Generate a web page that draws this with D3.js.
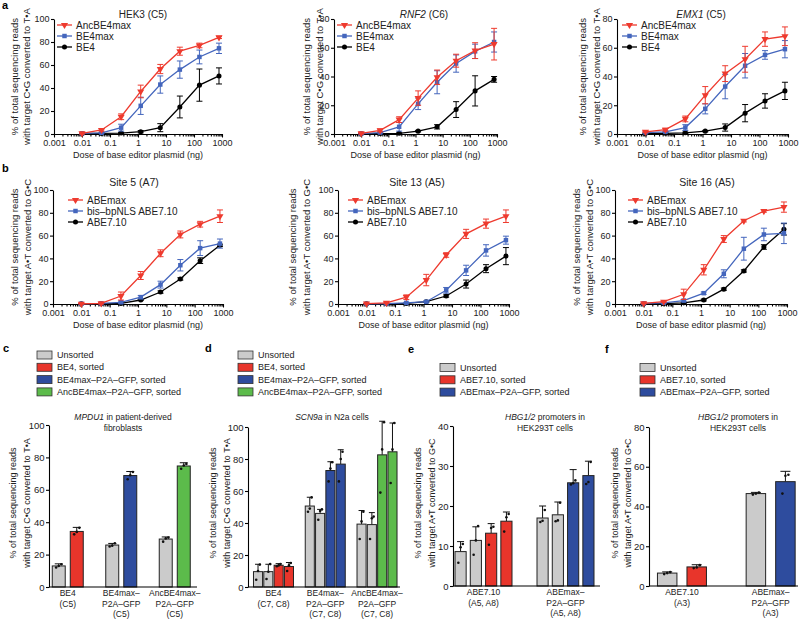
<!DOCTYPE html>
<html>
<head>
<meta charset="utf-8">
<script src="https://cdn.jsdelivr.net/npm/d3@7"></script>
<style>
  body { margin: 0; background: #fff; }
  svg { font-family: "Liberation Sans", Arial, Helvetica, sans-serif; }
</style>
</head>
<body>
<script>
// ---- data ----
const doses = [0.01, 0.05, 0.25, 1.25, 6.25, 31.25, 156.25, 781.25];
const doseTicks = [0.001, 0.01, 0.1, 1, 10, 100, 1000];
const cbeNames = ["AncBE4max", "BE4max", "BE4"];
const abeNames = ["ABEmax", "bis–bpNLS ABE7.10", "ABE7.10"];

// rows: red, blue, black
const hek3Mean = [[0.5, 3.5, 15, 37, 56.5, 72, 77, 84],
                  [0.5, 1, 5.5, 24.5, 43, 56, 67, 74.5],
                  [0.3, 0.5, 0.8, 2, 5.5, 23.5, 42.5, 50.5]];
const hek3Err  = [[0.5, 1, 2.5, 5.5, 4, 3.5, 2, 1],
                  [0.3, 0.5, 3, 7.5, 7.5, 7.5, 6, 4.5],
                  [0.2, 0.3, 0.5, 1, 3.5, 9.5, 14, 7]];
const rnf2Mean = [[0.5, 2.5, 10, 25, 39.5, 51, 58, 62.5],
                  [0.3, 1, 5, 21, 36, 49, 57.5, 64],
                  [0.2, 0.3, 0.5, 2, 5, 17, 30, 38]];
const rnf2Err  = [[0.5, 1, 2, 5, 5, 4.5, 5.5, 11],
                  [0.3, 0.5, 3, 4, 8, 6, 5, 7],
                  [0.2, 0.2, 0.3, 0.5, 1.5, 5.5, 10.5, 2]];
const emx1Mean = [[1.5, 3, 10.5, 27, 42, 52, 66, 68],
                  [1, 1.5, 4.5, 17.5, 33, 47.5, 55, 59],
                  [0.5, 0.5, 0.8, 2, 4.5, 14.5, 23, 30]];
const emx1Err  = [[0.5, 1, 2, 6, 5.5, 9, 5, 6.5],
                  [0.5, 0.5, 2, 3.5, 8.5, 8.5, 3, 6],
                  [0.2, 0.3, 0.5, 0.5, 2.5, 6, 5, 6]];
const site5Mean = [[0.2, 0.5, 7, 25, 44.5, 61, 70, 77],
                   [0.2, 0.5, 1.5, 6, 17, 34, 49, 53],
                   [0.2, 0.3, 0.5, 3.5, 10.5, 22, 38, 51.5]];
const site5Err  = [[0.2, 0.5, 3.5, 3.5, 3, 3, 2.5, 5.5],
                   [0.2, 0.3, 1, 1.5, 3, 5, 6.5, 4],
                   [0.2, 0.2, 0.3, 0.5, 1, 1, 2.5, 1]];
const site13Mean = [[0.3, 1, 6, 21, 43, 61.5, 70.5, 77],
                    [0.2, 0.3, 1, 2, 12, 29.5, 47, 56],
                    [0.2, 0.2, 0.5, 2, 7, 17.5, 31, 42]];
const site13Err  = [[0.3, 0.5, 2, 5, 2, 4, 4, 5.5],
                    [0.2, 0.2, 0.5, 0.5, 2.5, 4.5, 5, 3.5],
                    [0.2, 0.2, 0.3, 0.5, 1, 3.5, 3.5, 7.5]];
const site16Mean = [[0.5, 2, 8.5, 30, 57, 73, 81.5, 85],
                    [0.5, 1, 3, 9.5, 26.5, 48.5, 61, 62],
                    [0.2, 0.3, 1, 3.5, 13, 29, 50, 65.5]];
const site16Err  = [[0.3, 0.5, 4.5, 4.5, 3, 1, 1, 4.5],
                    [0.3, 0.5, 1, 1, 3.5, 10, 5.5, 9],
                    [0.2, 0.2, 0.5, 0.8, 1, 1, 2, 5]];

// bar panels
const cGroups = [["BE4", "(C5)"], ["BE4max–", "P2A–GFP", "(C5)"], ["AncBE4max–", "P2A–GFP", "(C5)"]];
const cMean = [[13, 34.3], [25.9, 68.8], [29.6, 74.7]];
const cSd   = [[1.3, 2.5], [1, 2.5], [1.3, 2]];
const cDots = [[[12, 13, 14], [32.5, 34, 36.5]], [[25, 25.5, 27], [66.5, 69, 71]], [[28, 30, 30.5], [73, 75, 76]]];

const dGroups = [["BE4", "(C7, C8)"], ["BE4max–", "P2A–GFP", "(C7, C8)"], ["AncBE4max–", "P2A–GFP", "(C7, C8)"]];
const dMean = [[9.6, 9.6, 13.6, 12.8], [50.6, 46, 72.8, 76.8], [39.3, 39, 82.6, 84.5]];
const dSd   = [[4.6, 4.6, 1, 2.5], [5.5, 2.5, 5.5, 9], [8.5, 7.5, 21, 18]];
const dDots = [[[4.5, 10, 14], [5, 9.5, 14.3], [13, 13.5, 14.3], [10, 13.5, 15]],
               [[47, 49, 56], [42, 47.5, 48.5], [66, 74, 78], [66, 80, 84.5]],
               [[30, 41, 47], [30, 43, 44], [59, 86, 103], [65, 86, 102.5]]];

const eGroups = [["ABE7.10", "(A5, A8)"], ["ABEmax–", "P2A–GFP", "(A5, A8)"]];
const eMean = [[8.6, 11.4, 13.2, 16.2], [17, 17.8, 25.8, 27.6]];
const eSd   = [[2.5, 3.4, 2.4, 2.3], [3, 3.2, 3.3, 3.6]];
const eDots = [[[5.8, 9.7, 10.5], [7.8, 11.4, 15], [10.3, 14.5, 14.8], [13.6, 17.2, 18]],
               [[16, 16.3, 19], [16.2, 16.4, 20.8], [25.4, 25.7, 26.4], [25.5, 26, 31]]];

const fGroups = [["ABE7.10", "(A3)"], ["ABEmax–", "P2A–GFP", "(A3)"]];
const fMean = [[6.5, 9.6], [46.5, 52.5]];
const fSd   = [[0.6, 1.1], [0.6, 5.2]];
const fDots = [[[6, 6.5, 7], [9, 9.3, 10.5]], [[46, 46.5, 47], [46.5, 55.5, 56]]];

const cLegend = ["Unsorted", "BE4, sorted", "BE4max–P2A–GFP, sorted", "AncBE4max–P2A–GFP, sorted"];
const eLegend = ["Unsorted", "ABE7.10, sorted", "ABEmax–P2A–GFP, sorted"];

const RED = "#ee3a2e", BLUE = "#4466bd";
const lineColors = [RED, BLUE, "#000"];
const GRAY = "#cbcbcb", BRED = "#e8352b", BBLUE = "#2e4c9e", BGREEN = "#5cbb4b";

const svg = d3.select("body").append("svg").attr("width", 800).attr("height", 621);

function yTitle(g, xs, cy, lines, fs) {
  lines.forEach((t, i) => {
    g.append("text")
      .attr("transform", `translate(${xs[i]},${cy}) rotate(-90)`)
      .attr("text-anchor", "middle").attr("dy", "0.35em")
      .attr("font-size", fs).attr("fill", "#222").text(t);
  });
}

function title(g, x, y, italic, rest, fs) {
  const t = g.append("text").attr("x", x).attr("y", y).attr("text-anchor", "middle")
    .attr("font-size", fs).attr("fill", "#222");
  if (italic) t.append("tspan").attr("font-style", "italic").text(italic);
  t.append("tspan").text(rest);
}

function linePanel(c) {
  const g = svg.append("g");
  const x = d3.scaleLog().domain([0.001, 1000]).range(c.xr);
  const y = d3.scaleLinear().domain([0, c.ymax]).range(c.yr);

  // x axis with minor ticks
  const minor = [];
  for (let e = -3; e < 3; e++) for (let k = 2; k < 10; k++) minor.push(k * Math.pow(10, e));
  g.append("g").attr("transform", `translate(0,${c.yr[0]})`)
    .call(d3.axisBottom(x).tickValues(minor).tickSize(2.5).tickFormat(""))
    .call(a => a.select(".domain").remove());
  const ax = g.append("g").attr("transform", `translate(0,${c.yr[0]})`)
    .call(d3.axisBottom(x).tickValues(doseTicks).tickSize(3.5).tickPadding(2)
      .tickFormat(d => String(d)).tickSizeOuter(0));
  ax.selectAll("text").attr("font-size", 9).attr("fill", "#222");

  const ay = g.append("g").attr("transform", `translate(${c.xr[0]},0)`)
    .call(d3.axisLeft(y).tickValues(d3.range(0, c.ymax + 1, 20)).tickSize(3).tickPadding(1.5).tickSizeOuter(0));
  ay.selectAll("text").attr("font-size", 9).attr("fill", "#222");
  g.selectAll(".domain, .tick line").attr("stroke", "#000").attr("stroke-width", 1.1);

  g.append("text").attr("x", (c.xr[0] + c.xr[1]) / 2).attr("y", c.yr[0] + 24)
    .attr("text-anchor", "middle").attr("font-size", 9).attr("fill", "#222")
    .text("Dose of base editor plasmid (ng)");
  yTitle(g, c.ylabX, (c.yr[0] + c.yr[1]) / 2, c.ylab, 9.5);
  title(g, c.titleX, c.titleY, c.italic, c.titleRest, c.titleSize);

  const syms = [d3.symbol(d3.symbolTriangle, 22), d3.symbol(d3.symbolSquare, 20), d3.symbol(d3.symbolCircle, 20)];
  const line = d3.line().x((d, i) => x(doses[i])).y(d => y(d));
  [2, 1, 0].forEach(s => {
    const col = lineColors[s];
    const sg = g.append("g");
    sg.selectAll("line.err").data(c.mean[s]).join("line")
      .attr("x1", (d, i) => x(doses[i])).attr("x2", (d, i) => x(doses[i]))
      .attr("y1", (d, i) => y(d - c.err[s][i])).attr("y2", (d, i) => y(d + c.err[s][i]))
      .attr("stroke", col).attr("stroke-width", 1);
    [-1, 1].forEach(sgn => {
      sg.selectAll(null).data(c.mean[s]).join("line")
        .attr("x1", (d, i) => x(doses[i]) - 3).attr("x2", (d, i) => x(doses[i]) + 3)
        .attr("y1", (d, i) => y(d + sgn * c.err[s][i])).attr("y2", (d, i) => y(d + sgn * c.err[s][i]))
        .attr("stroke", col).attr("stroke-width", 1);
    });
    sg.append("path").datum(c.mean[s]).attr("d", line)
      .attr("fill", "none").attr("stroke", col).attr("stroke-width", 1.3);
    sg.selectAll("path.m").data(c.mean[s]).join("path")
      .attr("transform", (d, i) => `translate(${x(doses[i])},${y(d)})` + (s === 0 ? " rotate(180)" : ""))
      .attr("d", syms[s]).attr("fill", col);
  });

  // legend
  c.names.forEach((n, i) => {
    const ly = c.legY + i * 11;
    g.append("line").attr("x1", c.legX).attr("x2", c.legX + 15).attr("y1", ly).attr("y2", ly)
      .attr("stroke", lineColors[i]).attr("stroke-width", 1.3);
    g.append("path").attr("transform", `translate(${c.legX + 7.5},${ly})` + (i === 0 ? " rotate(180)" : ""))
      .attr("d", syms[i]).attr("fill", lineColors[i]);
    g.append("text").attr("x", c.legX + 19).attr("y", ly).attr("dy", "0.35em")
      .attr("font-size", 10).attr("fill", "#222").text(n);
  });
}

const cbeLab = ["% of total sequencing reads", "with target C•G converted to T•A"];
const abeLab = ["% of total sequencing reads", "with target A•T converted to G•C"];

linePanel({ xr: [54, 222], yr: [134, 19], ymax: 100, mean: hek3Mean, err: hek3Err, names: cbeNames,
  legX: 57, legY: 25, ylab: cbeLab, ylabX: [15, 27], italic: "", titleRest: "HEK3 (C5)", titleX: 143, titleY: 17.5, titleSize: 10 });
linePanel({ xr: [334, 497], yr: [134, 19], ymax: 80, mean: rnf2Mean, err: rnf2Err, names: cbeNames,
  legX: 337, legY: 25, ylab: cbeLab, ylabX: [307, 320], italic: "RNF2", titleRest: " (C6)", titleX: 424, titleY: 17.5, titleSize: 10 });
linePanel({ xr: [617, 788], yr: [134, 19], ymax: 80, mean: emx1Mean, err: emx1Err, names: cbeNames,
  legX: 622, legY: 25, ylab: cbeLab, ylabX: [583, 597], italic: "EMX1", titleRest: " (C5)", titleX: 701, titleY: 17.5, titleSize: 10 });
linePanel({ xr: [53, 223], yr: [304, 190], ymax: 100, mean: site5Mean, err: site5Err, names: abeNames,
  legX: 68, legY: 200, ylab: abeLab, ylabX: [15, 28], italic: "", titleRest: "Site 5 (A7)", titleX: 134, titleY: 185.5, titleSize: 10.5 });
linePanel({ xr: [338, 509], yr: [304, 190], ymax: 100, mean: site13Mean, err: site13Err, names: abeNames,
  legX: 348, legY: 200, ylab: abeLab, ylabX: [293, 307], italic: "", titleRest: "Site 13 (A5)", titleX: 417, titleY: 185.5, titleSize: 10.5 });
linePanel({ xr: [615, 787], yr: [304, 190], ymax: 100, mean: site16Mean, err: site16Err, names: abeNames,
  legX: 628, legY: 200, ylab: abeLab, ylabX: [577, 590], italic: "", titleRest: "Site 16 (A5)", titleX: 707, titleY: 185.5, titleSize: 10.5 });

function barLegend(x, y0, labels, colors) {
  labels.forEach((t, i) => {
    const yy = y0 + i * 12.3;
    svg.append("rect").attr("x", x).attr("y", yy - 4).attr("width", 15).attr("height", 8)
      .attr("fill", colors[i]).attr("stroke", "#333").attr("stroke-width", 0.8);
    svg.append("text").attr("x", x + 20).attr("y", yy).attr("dy", "0.35em")
      .attr("font-size", 9).attr("fill", "#222").text(t);
  });
}

function barPanel(c) {
  const g = svg.append("g");
  const xg = d3.scaleBand().domain(d3.range(c.groups.length)).range(c.gr);
  const xi = d3.scaleBand().domain(d3.range(c.mean[0].length)).range([0, c.innerW]).paddingInner(c.pad);
  const y = d3.scaleLinear().domain([0, c.ymax]).range(c.yr);
  const bx = (gi, bi) => xg(gi) + xg.bandwidth() / 2 - c.innerW / 2 + xi(bi);
  const bw = xi.bandwidth();

  const bars = [];
  c.mean.forEach((row, gi) => row.forEach((v, bi) => bars.push({ gi, bi, v, sd: c.sd[gi][bi], dots: c.dots[gi][bi], col: c.colors[gi][bi] })));

  // error bars (upward)
  g.selectAll("line.eb").data(bars).join("line")
    .attr("x1", d => bx(d.gi, d.bi) + bw / 2).attr("x2", d => bx(d.gi, d.bi) + bw / 2)
    .attr("y1", d => y(d.v)).attr("y2", d => y(d.v + d.sd)).attr("stroke", "#111").attr("stroke-width", 1);
  g.selectAll("line.cap").data(bars).join("line")
    .attr("x1", d => bx(d.gi, d.bi) + bw / 2 - c.cap).attr("x2", d => bx(d.gi, d.bi) + bw / 2 + c.cap)
    .attr("y1", d => y(d.v + d.sd)).attr("y2", d => y(d.v + d.sd)).attr("stroke", "#111").attr("stroke-width", 1);
  g.selectAll("rect").data(bars).join("rect")
    .attr("x", d => bx(d.gi, d.bi)).attr("width", bw)
    .attr("y", d => y(d.v)).attr("height", d => y(0) - y(d.v))
    .attr("fill", d => d.col).attr("stroke", "#222").attr("stroke-width", 1);
  // error bar segment inside bar top area kept visible above
  bars.forEach(d => {
    const cx = bx(d.gi, d.bi) + bw / 2;
    d.dots.forEach((v, k) => {
      g.append("circle").attr("cx", cx + (k - 1) * Math.min(3, bw / 5)).attr("cy", y(v)).attr("r", 1.3).attr("fill", "#111");
    });
  });

  g.append("line").attr("x1", c.xr[0]).attr("x2", c.xr[1]).attr("y1", y(0)).attr("y2", y(0))
    .attr("stroke", "#000").attr("stroke-width", 1.1);
  const ay = g.append("g").attr("transform", `translate(${c.xr[0]},0)`)
    .call(d3.axisLeft(y).tickValues(d3.range(0, c.ymax + 1, c.step)).tickSize(3).tickPadding(1.5).tickSizeOuter(0));
  ay.selectAll("text").attr("font-size", 9.5).attr("fill", "#222");
  ay.selectAll(".domain, .tick line").attr("stroke", "#000").attr("stroke-width", 1.1);

  c.groups.forEach((lines, gi) => {
    lines.forEach((t, li) => {
      g.append("text").attr("x", xg(gi) + xg.bandwidth() / 2).attr("y", y(0) + 9 + li * 10.5)
        .attr("text-anchor", "middle").attr("font-size", 8.5).attr("fill", "#222").text(t);
    });
  });
  c.title.forEach((t, i) => {
    title(g, c.titleX, 420 + i * 11, i === 0 ? c.italic : "", i === 0 ? t : t, 8.5);
  });
  yTitle(g, c.ylabX, 503, c.ylab, 9);
}

barPanel({ groups: cGroups, mean: cMean, sd: cSd, dots: cDots,
  colors: [[GRAY, BRED], [GRAY, BBLUE], [GRAY, BGREEN]],
  gr: [41, 201.5], innerW: 31, pad: 0.28, xr: [49, 197], yr: [587, 425], ymax: 100, step: 20, cap: 4,
  italic: "MPDU1", title: [" in patient-derived", "fibroblasts"], titleX: 123, ylab: cbeLab, ylabX: [13, 27] });
barPanel({ groups: dGroups, mean: dMean, sd: dSd, dots: dDots,
  colors: [[GRAY, GRAY, BRED, BRED], [GRAY, GRAY, BBLUE, BBLUE], [GRAY, GRAY, BGREEN, BGREEN]],
  gr: [247.6, 402.9], innerW: 40, pad: 0.12, xr: [248, 400], yr: [587, 427], ymax: 100, step: 20, cap: 3,
  italic: "SCN9a", title: [" in N2a cells"], titleX: 332, ylab: cbeLab, ylabX: [213, 227] });
barPanel({ groups: eGroups, mean: eMean, sd: eSd, dots: eDots,
  colors: [[GRAY, GRAY, BRED, BRED], [GRAY, GRAY, BBLUE, BBLUE]],
  gr: [442.5, 606.5], innerW: 57, pad: 0.27, xr: [453, 600], yr: [586, 426], ymax: 40, step: 10, cap: 3.5,
  italic: "HBG1/2", title: [" promoters in", "HEK293T cells"], titleX: 545, ylab: abeLab, ylabX: [418, 432] });
barPanel({ groups: fGroups, mean: fMean, sd: fSd, dots: fDots,
  colors: [[GRAY, BRED], [GRAY, BBLUE]],
  gr: [637.6, 815], innerW: 49, pad: 0.34, xr: [649, 798], yr: [586, 427], ymax: 80, step: 20, cap: 5,
  italic: "HBG1/2", title: [" promoters in", "HEK293T cells"], titleX: 738, ylab: abeLab, ylabX: [615, 628] });

barLegend(37, 355, cLegend, [GRAY, BRED, BBLUE, BGREEN]);
barLegend(238, 355, cLegend, [GRAY, BRED, BBLUE, BGREEN]);
barLegend(440, 367.5, eLegend, [GRAY, BRED, BBLUE]);
barLegend(640, 367.5, eLegend, [GRAY, BRED, BBLUE]);

// panel letters
[["a", 2, 9], ["b", 2, 172], ["c", 3, 352], ["d", 205, 352], ["e", 408, 353], ["f", 605, 353]].forEach(([t, x, y]) => {
  svg.append("text").attr("x", x).attr("y", y).attr("font-size", 11).attr("font-weight", "bold").text(t);
});
</script>
</body>
</html>
